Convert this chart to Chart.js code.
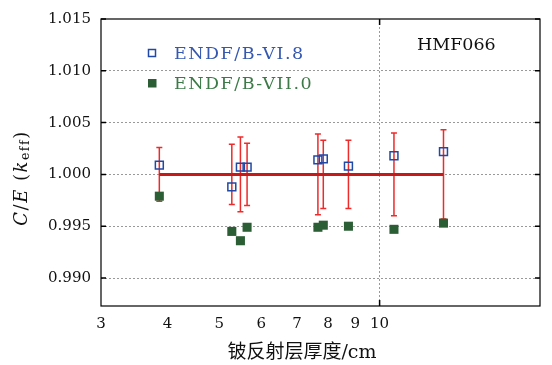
<!DOCTYPE html>
<html><head><meta charset="utf-8">
<script src="https://cdn.jsdelivr.net/npm/chart.js@4.4.0/dist/chart.umd.min.js"></script>
<style>html,body{margin:0;padding:0;background:#fff;}#wrap{width:552px;height:365px;position:relative}</style>
</head><body><div id="wrap"><canvas id="c" width="552" height="365"></canvas></div>
<script>
// Be reflector thickness (cm)
const thickness = [3.86, 5.28, 5.48, 5.64, 7.66, 7.84, 8.74, 10.64, 13.18];
// C/E values
const endf68 = [1.0009, 0.9988, 1.0007, 1.0007, 1.0014, 1.0015, 1.0008, 1.0018, 1.0022];
const endf70 = [0.9979, 0.9945, 0.9936, 0.9949, 0.9949, 0.9951, 0.9950, 0.9947, 0.9953];
// experimental uncertainty around 1.000
const expUnc = [0.0026, 0.0029, 0.0036, 0.0030, 0.0039, 0.0033, 0.0033, 0.0040, 0.0043];
const xTicks = [3, 4, 5, 6, 7, 8, 9, 10];
const yTicks = [0.990, 0.995, 1.000, 1.005, 1.010, 1.015];
const seriesNames = ['ENDF/B-VI.8', 'ENDF/B-VII.0'];
const caseName = 'HMF066';

const BLUE = '#2048a8', GREEN = '#2b5e35', RED = '#ee2a2a';

const errPlugin = {
  id: 'errbars',
  beforeDatasetsDraw(chart) {
    const {ctx, scales: {x, y}} = chart;
    ctx.save();
    ctx.strokeStyle = RED; ctx.lineWidth = 1.5;
    thickness.forEach((t, i) => {
      const px = x.getPixelForValue(t);
      const y1 = y.getPixelForValue(1 + expUnc[i]);
      const y2 = y.getPixelForValue(1 - expUnc[i]);
      ctx.beginPath();
      ctx.moveTo(px, y1); ctx.lineTo(px, y2);
      ctx.moveTo(px - 3, y1); ctx.lineTo(px + 3, y1);
      ctx.moveTo(px - 3, y2); ctx.lineTo(px + 3, y2);
      ctx.stroke();
    });
    ctx.restore();
  }
};

const decoPlugin = {
  id: 'deco',
  afterDraw(chart) {
    const {ctx, chartArea: a, scales: {x, y}} = chart;
    ctx.save();
    // frame
    ctx.strokeStyle = '#000'; ctx.lineWidth = 1.2;
    ctx.strokeRect(a.left, a.top, a.right - a.left, a.bottom - a.top);
    // inner ticks
    ctx.lineWidth = 1.5;
    ctx.beginPath();
    yTicks.forEach(v => {
      const py = y.getPixelForValue(v);
      ctx.moveTo(a.left, py); ctx.lineTo(a.left + 5, py);
      ctx.moveTo(a.right, py); ctx.lineTo(a.right - 5, py);
    });
    const p10 = x.getPixelForValue(10);
    ctx.moveTo(p10, a.bottom); ctx.lineTo(p10, a.bottom - 6);
    ctx.moveTo(p10, a.top); ctx.lineTo(p10, a.top + 6);
    ctx.stroke();

    // legend
    ctx.lineWidth = 1.5; ctx.strokeStyle = BLUE;
    ctx.strokeRect(148.5, 49.5, 7, 7);
    ctx.fillStyle = GREEN;
    ctx.fillRect(148, 79, 8.5, 8.5);
    ctx.font = '17.5px "DejaVu Serif"';
    ctx.letterSpacing = '1.5px';
    ctx.textBaseline = 'middle'; ctx.textAlign = 'left';
    ctx.fillStyle = '#3558b0';
    ctx.fillText(seriesNames[0], 174, 54);
    ctx.fillStyle = '#3c7a48';
    ctx.fillText(seriesNames[1], 174, 84);
    ctx.letterSpacing = '0px';

    // case label
    ctx.fillStyle = '#111';
    ctx.font = '17.5px "DejaVu Serif"';
    ctx.fillText(caseName, 417, 45);

    // x title
    ctx.textAlign = 'center';
    ctx.font = '19px "DejaVu Serif", "Noto Sans CJK SC"';
    ctx.fillText('铍反射层厚度/cm', 302, 353);

    // y title, rotated, with subscript
    ctx.translate(22, 178);
    ctx.rotate(-Math.PI / 2);
    ctx.letterSpacing = '1.5px';
    const it = 'italic 18px "DejaVu Serif"', rm = '18px "DejaVu Serif"', sub = '12.5px "DejaVu Serif"';
    const parts = [['C', it, 0], ['/', rm, 0], ['E', it, 0], [' (', rm, 0], ['k', it, 0], ['eff', sub, 4], [')', rm, 0]];
    let w = 0;
    parts.forEach(p => { ctx.font = p[1]; w += ctx.measureText(p[0]).width; });
    let cx = -w / 2;
    ctx.textAlign = 'left';
    parts.forEach(p => { ctx.font = p[1]; ctx.fillText(p[0], cx, p[2]); cx += ctx.measureText(p[0]).width; });
    ctx.restore();
  }
};

const ctx = document.getElementById('c').getContext('2d');
new Chart(ctx, {
  type: 'scatter',
  data: {
    datasets: [
      {
        type: 'line', label: 'ref',
        data: [{x: thickness[0], y: 1}, {x: thickness[thickness.length - 1], y: 1}],
        borderColor: '#c41a1a', borderWidth: 3, pointRadius: 0, order: 3
      },
      {
        label: seriesNames[0],
        data: thickness.map((t, i) => ({x: t, y: endf68[i]})),
        pointStyle: 'rect', pointRadius: 5.6, borderColor: BLUE, borderWidth: 1.5,
        backgroundColor: 'rgba(0,0,0,0)', order: 2
      },
      {
        label: seriesNames[1],
        data: thickness.map((t, i) => ({x: t, y: endf70[i]})),
        pointStyle: 'rect', pointRadius: 6.4, borderColor: GREEN, borderWidth: 0,
        backgroundColor: GREEN, order: 1
      }
    ]
  },
  options: {
    responsive: false, animation: false, devicePixelRatio: 1,
    layout: {padding: {top: 17, right: 12, left: 0, bottom: 0}},
    plugins: {legend: {display: false}, tooltip: {enabled: false}},
    scales: {
      x: {
        type: 'logarithmic', min: 3, max: 20,
        afterBuildTicks: s => { s.ticks = xTicks.map(v => ({value: v, major: v === 10})); },
        afterFit: s => { s.height = 59; },
        ticks: {autoSkip: false, maxRotation: 0, padding: 9, color: '#111',
          font: {family: 'DejaVu Serif', size: 15}, callback: v => String(v)},
        grid: {drawTicks: false, lineWidth: 1,
          color: c => (c.tick && c.tick.value === 10) ? '#999' : 'rgba(0,0,0,0)'},
        border: {display: false, dash: [2, 2]}
      },
      y: {
        min: 0.9873, max: 1.015,
        afterBuildTicks: s => { s.ticks = yTicks.map(v => ({value: v})); },
        afterFit: s => { s.width = 101; },
        ticks: {padding: 10, color: '#111', font: {family: 'DejaVu Serif', size: 15},
          callback: v => Number(v).toFixed(3)},
        grid: {drawTicks: false, lineWidth: 1,
          color: c => (c.tick && c.tick.value < 1.015) ? '#999' : 'rgba(0,0,0,0)'},
        border: {display: false, dash: [2, 2]}
      }
    }
  },
  plugins: [errPlugin, decoPlugin]
});
</script>
</body></html>
